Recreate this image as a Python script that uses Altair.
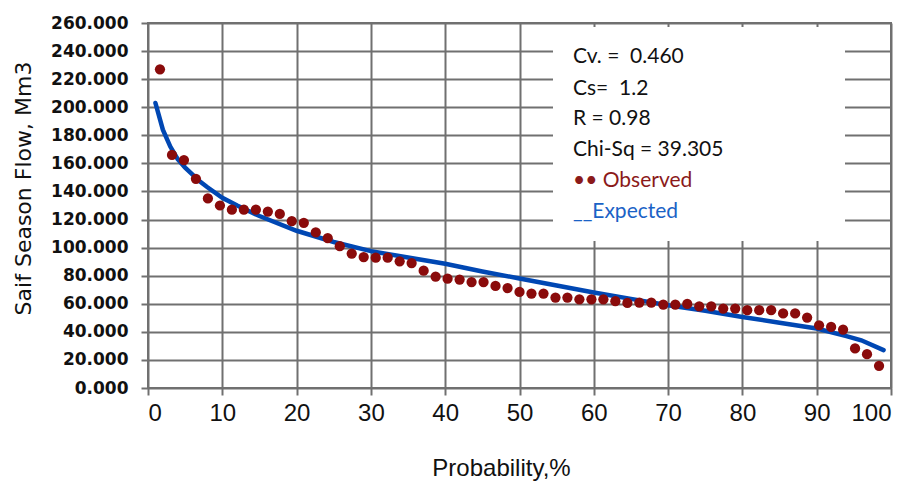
import altair as alt
import pandas as pd

# Observed points (probability %, flow Mm3)
obs_p = [1.61, 3.23, 4.84, 6.45, 8.06, 9.68, 11.29, 12.90, 14.52, 16.13,
         17.74, 19.35, 20.97, 22.58, 24.19, 25.81, 27.42, 29.03, 30.65, 32.26,
         33.87, 35.48, 37.10, 38.71, 40.32, 41.94, 43.55, 45.16, 46.77, 48.39,
         50.00, 51.61, 53.23, 54.84, 56.45, 58.06, 59.68, 61.29, 62.90, 64.52,
         66.13, 67.74, 69.35, 70.97, 72.58, 74.19, 75.81, 77.42, 79.03, 80.65,
         82.26, 83.87, 85.48, 87.10, 88.71, 90.32, 91.94, 93.55, 95.16, 96.77,
         98.39]
obs_q = [227.0, 166.0, 162.4, 149.0, 135.0, 130.0, 127.0, 127.0, 127.0, 125.7,
         124.0, 118.8, 117.7, 110.8, 106.7, 101.0, 95.8, 93.3, 92.8, 92.8,
         90.2, 89.0, 83.6, 79.3, 77.9, 77.2, 75.5, 75.5, 72.7, 71.2,
         68.4, 67.3, 67.3, 64.4, 64.4, 63.2, 63.2, 63.2, 61.8, 60.6,
         60.9, 60.9, 59.4, 59.4, 59.9, 58.2, 58.2, 56.6, 56.6, 55.4,
         55.4, 55.4, 53.1, 53.1, 50.2, 44.7, 43.5, 41.6, 28.2, 24.1,
         15.8]

# Expected (fitted) curve
exp_p = [1, 2, 3, 4, 5, 6, 7, 8, 10, 12, 15, 20, 25, 30, 35, 40, 45, 50,
         55, 60, 65, 70, 75, 80, 85, 90, 94, 96, 99]
exp_q = [203, 184, 172, 163, 157, 152, 147, 143, 135.5, 130, 122.5, 112, 104,
         97.5, 93, 88.5, 83, 78, 73, 68, 63.5, 59, 55, 50.6, 46.5, 42.4, 37,
         34, 27]

y_ticks = list(range(0, 261, 20))
x_ticks = list(range(0, 101, 10))

NB = "\u00a0"
stat_lines = ["Cv." + NB + "=" + NB + NB + "0.460", "Cs=" + NB + NB + "1.2",
              "R = 0.98", "Chi-Sq = 39.305"]
legend_obs = "••" + NB + "Observed"
legend_exp = "__Expected"

obs_df = pd.DataFrame({"p": obs_p, "q": obs_q})
exp_df = pd.DataFrame({"p": exp_p, "q": exp_q})

W, H = 743, 365

x_enc = alt.X("p:Q", scale=alt.Scale(domain=[0, 100], nice=False),
              axis=alt.Axis(values=x_ticks, title="Probability,%",
                            labelFont="Liberation Sans", labelFontSize=24,
                            labelColor="#111", labelPadding=6,
                            labelOverlap=False,
                            titleFont="Liberation Sans", titleFontSize=24,
                            titleFontWeight="normal", titleColor="#111",
                            titleX=353, titleY=80, titleBaseline="middle",
                            titleAlign="center"))
y_enc = alt.Y("q:Q", scale=alt.Scale(domain=[0, 260], nice=False),
              axis=alt.Axis(values=y_ticks, format=".3f",
                            title="Saif Season Flow, Mm3",
                            labelFont="DejaVu Sans", labelFontSize=17,
                            labelFontWeight="bold", labelColor="#111",
                            labelPadding=13, labelOverlap=False,
                            labelSeparation=0,
                            titleFont="DejaVu Sans", titleFontSize=22,
                            titleFontWeight="normal", titleColor="#111",
                            titleAngle=-90, titleX=-125, titleY=165,
                            titleBaseline="middle", titleAlign="center"))

line = alt.Chart(exp_df).mark_line(color="#0047b3", strokeWidth=4.5,
                                   strokeCap="round").encode(x=x_enc, y=y_enc)
points = alt.Chart(obs_df).mark_circle(color="#8a0b0b", size=105,
                                       opacity=1).encode(x=x_enc, y=y_enc)

box = alt.Chart(obs_df.head(1)).mark_rect(fill="white").encode(
    x=alt.value(405), x2=alt.value(697), y=alt.value(4), y2=alt.value(218))

layers = [box]
base_y = 40
step = 31
for i, t in enumerate(stat_lines):
    layers.append(alt.Chart(obs_df.head(1)).mark_text(
        text=t, align="left", baseline="alphabetic", font="Lato",
        fontSize=21, color="#111").encode(
        x=alt.value(425), y=alt.value(base_y + i * step + (1 if i == 1 else 0))))
layers.append(alt.Chart(obs_df.head(1)).mark_text(
    text=legend_obs, align="left", baseline="alphabetic", font="Lato",
    fontSize=21, color="#8b1a1a").encode(
    x=alt.value(425), y=alt.value(base_y + 4 * step)))
layers.append(alt.Chart(obs_df.head(1)).mark_text(
    text=legend_exp, align="left", baseline="alphabetic", font="Lato",
    fontSize=21, color="#1a62c6").encode(
    x=alt.value(425), y=alt.value(base_y + 5 * step)))

chart = alt.layer(line, points, *layers).properties(
    width=W, height=H,
    autosize=alt.AutoSizeParams(type="none"),
    padding={"left": 140, "top": 15, "right": 8, "bottom": 94},
).configure_view(stroke="#707070", strokeWidth=2).configure_axis(
    grid=True, gridColor="#707070", gridWidth=2, gridOpacity=1,
    domain=False, tickColor="#707070", tickWidth=2, tickSize=7,
    labelOverlap=False,
)

chart.save("out.html", embed_options={"renderer": "svg", "actions": False})
